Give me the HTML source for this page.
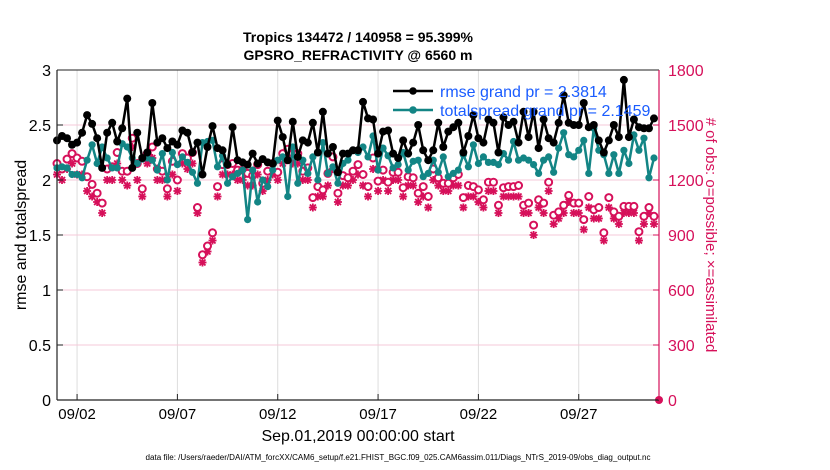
<!DOCTYPE html>
<html><head><meta charset="utf-8"><style>
body{margin:0;background:#fff;}
svg{display:block;font-family:"Liberation Sans",Arial,sans-serif;}
</style></head><body>
<svg id="chart" width="830" height="470" viewBox="0 0 830 470" xmlns="http://www.w3.org/2000/svg">
<g id="grid"></g>
<g id="series"></g>
<g id="axes"></g>
<text x="358" y="42" text-anchor="middle" font-size="14" font-weight="bold">Tropics 134472 / 140958 = 95.399%</text>
<text x="358" y="60" text-anchor="middle" font-size="14" font-weight="bold">GPSRO_REFRACTIVITY @ 6560 m</text>
<text transform="translate(26,235) rotate(-90)" text-anchor="middle" font-size="16">rmse and totalspread</text>
<text transform="translate(706,235) rotate(90)" text-anchor="middle" font-size="15" fill="#d6105a"># of obs: o=possible; ×=assimilated</text>
<text x="358" y="441" text-anchor="middle" font-size="16">Sep.01,2019 00:00:00 start</text>
<text x="398" y="460" text-anchor="middle" font-size="8" textLength="505" lengthAdjust="spacingAndGlyphs">data file: /Users/raeder/DAI/ATM_forcXX/CAM6_setup/f.e21.FHIST_BGC.f09_025.CAM6assim.011/Diags_NTrS_2019-09/obs_diag_output.nc</text>
<g id="legend"></g>
</svg>
<script>
const rmse=[2.36,2.40,2.38,2.32,2.34,2.43,2.59,2.51,2.38,2.11,2.43,2.52,2.35,2.47,2.74,2.11,2.43,2.20,2.25,2.70,2.34,2.38,2.29,2.35,2.32,2.45,2.43,2.25,2.34,2.05,2.30,2.49,2.29,2.27,2.14,2.48,2.18,2.16,2.14,2.24,2.15,2.19,2.16,2.15,2.54,2.39,2.18,2.53,2.21,2.36,2.34,2.52,2.25,2.62,2.24,2.30,2.07,2.24,2.24,2.27,2.27,2.71,2.56,2.55,2.24,2.44,2.45,2.24,2.20,2.36,2.24,2.34,2.50,2.27,2.18,2.27,2.52,2.30,2.44,2.48,2.52,2.25,2.40,2.59,2.38,2.34,2.55,2.52,2.25,2.57,2.50,2.53,2.34,2.62,2.39,2.62,2.29,2.55,2.38,2.34,2.52,2.77,2.52,2.50,2.50,2.70,2.48,2.50,2.36,2.25,2.36,2.50,2.39,2.91,2.39,2.55,2.48,2.47,2.47,2.56];
const spread=[2.11,2.12,2.11,2.05,2.05,2.02,2.18,2.32,2.15,2.30,2.20,2.11,2.11,2.33,2.30,2.20,2.15,2.19,2.20,2.18,2.09,2.24,2.00,2.25,2.14,2.21,2.16,2.07,1.97,2.34,2.35,2.36,2.12,2.22,1.97,2.03,2.06,2.09,1.64,2.09,1.80,2.00,1.94,2.09,2.18,2.21,1.85,2.30,1.97,2.18,2.06,2.21,2.00,2.34,2.06,2.12,1.97,2.15,2.18,2.27,2.25,2.30,2.21,2.40,2.09,2.29,2.22,2.11,2.14,2.25,2.09,2.17,2.18,2.03,2.06,2.18,2.07,2.21,2.03,2.06,2.09,2.23,2.12,2.32,2.15,2.21,2.16,2.16,2.14,2.24,2.18,2.35,2.18,2.20,2.18,2.14,2.06,2.18,2.21,2.07,2.29,2.43,2.23,2.21,2.27,2.36,2.06,2.47,2.27,2.23,2.06,2.23,2.06,2.27,2.15,2.41,2.27,2.38,2.02,2.20];
const nPossible=[1290,1260,1314,1344,1320,1302,1218,1176,1128,1074,1260,1272,1350,1248,1248,1428,1290,1152,1344,1380,1260,1248,1152,1302,1200,1344,1320,1350,1050,792,840,912,1164,1284,1284,1290,1254,1254,1236,1224,1284,1182,1248,1290,1242,1344,1368,1344,1344,1248,1266,1104,1164,1146,1236,1326,1128,1224,1212,1248,1284,1230,1164,1320,1194,1254,1188,1242,1242,1158,1218,1212,1128,1164,1110,1260,1212,1182,1182,1212,1230,1104,1170,1164,1146,1092,1188,1188,1062,1158,1164,1164,1170,1062,1074,954,1092,1074,1188,1008,1026,1062,1116,1074,1074,984,1110,1038,1050,912,1104,1026,1002,1056,1056,1056,918,1002,1050,1002,0];
const nAssim=[1230,1200,1260,1290,1230,1230,1140,1110,1080,1020,1200,1200,1290,1200,1170,1380,1200,1110,1290,1320,1200,1200,1110,1230,1140,1290,1260,1290,1020,750,810,870,1110,1230,1230,1230,1200,1200,1170,1170,1230,1140,1200,1230,1200,1290,1320,1290,1290,1200,1200,1050,1110,1110,1170,1260,1080,1170,1170,1200,1230,1170,1110,1260,1140,1200,1140,1200,1200,1110,1170,1170,1080,1110,1050,1200,1170,1140,1140,1170,1170,1050,1110,1110,1080,1050,1140,1140,1020,1110,1110,1110,1110,1020,1020,900,1050,1020,1140,960,990,1020,1080,1020,1020,930,1050,990,990,870,1050,990,960,1020,1020,1020,870,960,1020,960,0];
const xTickDays=[1,6,11,16,21,26];
const xTickLabels=["09/02","09/07","09/12","09/17","09/22","09/27"];
const yTicks=[0,0.5,1,1.5,2,2.5,3];
const yTickLabels=["0","0.5","1","1.5","2","2.5","3"];
const rTicks=[0,300,600,900,1200,1500,1800];

const L=57,R=659,T=70,B=400;
const X=d=>L+(d/30)*(R-L);
const Y=v=>B-(v/3)*(B-T);
const YR=c=>B-(c/1800)*(B-T);
const tOf=i=>i*0.25;
const NS="http://www.w3.org/2000/svg";
function mk(tag,parent,attrs){const e=document.createElementNS(NS,tag);for(const k in attrs)e.setAttribute(k,attrs[k]);parent.appendChild(e);return e;}
const PINK="#d6105a",TEAL="#138585";
const grid=document.getElementById('grid'),axes=document.getElementById('axes'),ser=document.getElementById('series'),leg=document.getElementById('legend');

xTickDays.forEach((d,i)=>{
  const g=mk('line',grid,{x1:X(d),x2:X(d),y1:T,y2:B,stroke:'#dcdcdc','stroke-width':1});
  
  const t=mk('line',axes,{x1:X(d),x2:X(d),y1:B,y2:B-6,stroke:'#222','stroke-width':1});
  
  const lb=mk('text',axes,{x:X(d),y:B+19,'text-anchor':'middle','font-size':15});
  lb.textContent=xTickLabels[i];
  
});
rTicks.forEach(c=>{
  if(c>0&&c<1800){const g=mk('line',grid,{x1:L,x2:R,y1:YR(c),y2:YR(c),stroke:'#f6c8d8','stroke-width':1});
  }
  const t=mk('line',axes,{x1:R,x2:R-6,y1:YR(c),y2:YR(c),stroke:PINK,'stroke-width':1});
  
  const lb=mk('text',axes,{x:R+9,y:YR(c)+6,'font-size':16,fill:PINK});
  lb.textContent=String(c);
  
});
yTicks.forEach((v,i)=>{
  const t=mk('line',axes,{x1:L,x2:L+6,y1:Y(v),y2:Y(v),stroke:'#222','stroke-width':1});
  
  const lb=mk('text',axes,{x:L-6,y:Y(v)+6,'text-anchor':'end','font-size':16});
  lb.textContent=yTickLabels[i];
  
});
let ax=mk('line',axes,{x1:L,x2:L,y1:T,y2:B,stroke:'#222','stroke-width':1.2});

ax=mk('line',axes,{x1:L,x2:R,y1:B,y2:B,stroke:'#222','stroke-width':1.2});

ax=mk('line',axes,{x1:L,x2:R,y1:T,y2:T,stroke:'#222','stroke-width':1});

ax=mk('line',axes,{x1:R,x2:R,y1:T,y2:B,stroke:PINK,'stroke-width':1.2});


function star(parent,cx,cy){
  const g=mk('g',parent,{stroke:PINK,'stroke-width':1.8});
  
  const s=4;
  mk('line',g,{x1:cx-s,x2:cx+s,y1:cy,y2:cy});mk('line',g,{x1:cx,x2:cx,y1:cy-s,y2:cy+s});
  mk('line',g,{x1:cx-3,x2:cx+3,y1:cy-3,y2:cy+3});mk('line',g,{x1:cx-3,x2:cx+3,y1:cy+3,y2:cy-3});
}
nAssim.forEach((c,i)=>{ if(c>0) star(ser,X(tOf(i)),YR(c)); });
nPossible.forEach((c,i)=>{ if(c>0){
  const e=mk('circle',ser,{cx:X(tOf(i)),cy:YR(c),r:3.5,fill:'#fff',stroke:PINK,'stroke-width':2});
  }});
const z=mk('circle',ser,{cx:X(30),cy:YR(0),r:4,fill:PINK});


function line(vals,color,name,r){
  const p=mk('polyline',ser,{points:vals.map((v,i)=>X(tOf(i))+','+Y(v)).join(' '),fill:'none',stroke:color,'stroke-width':2.5,'stroke-linejoin':'round'});
  
  vals.forEach((v,i)=>{const c=mk('circle',ser,{cx:X(tOf(i)),cy:Y(v),r:r,fill:color});
    });
}
line(spread,TEAL,'totalspread',3.6);
line(rmse,'#000','rmse',4);

[['#000','rmse grand pr = 2.3814',91,'legend-rmse'],[TEAL,'totalspread grand pr = 2.1459',110,'legend-totalspread']].forEach(a=>{
  const g=mk('g',leg,{});
  
  mk('line',g,{x1:393,x2:433,y1:a[2],y2:a[2],stroke:a[0],'stroke-width':2.5});
  mk('circle',g,{cx:413,cy:a[2],r:3.8,fill:a[0]});
  const t=mk('text',g,{x:440,y:a[2]+6,'font-size':16,fill:'#1a5cff'});t.textContent=a[1];
});
</script>
</body></html>
